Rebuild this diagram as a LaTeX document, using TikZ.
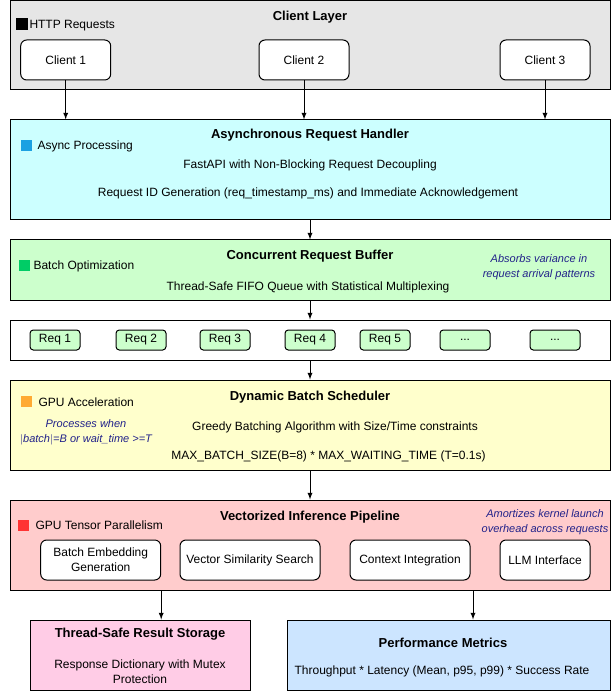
\documentclass[tikz,border=0pt]{standalone}
\usepackage{fontspec}
\setmainfont{Liberation Sans}

\definecolor{clientgray}{HTML}{E6E6E6}
\definecolor{asynccyan}{HTML}{CCFFFF}
\definecolor{buffergreen}{HTML}{CCFFCC}
\definecolor{schedyellow}{HTML}{FFFFCC}
\definecolor{pipered}{HTML}{FFCCCC}
\definecolor{storepink}{HTML}{FFCCE6}
\definecolor{metricsblue}{HTML}{CCE5FF}
\definecolor{keyblue}{HTML}{1BA1E2}
\definecolor{keygreen}{HTML}{00CC66}
\definecolor{keyorange}{HTML}{FFAA33}
\definecolor{keyred}{HTML}{FF3333}
\definecolor{notenavy}{HTML}{22228A}

\begin{document}
\begin{tikzpicture}[> = latex, x = 0.75pt, y = -0.75pt, line width = 0.75pt,
	layer/.style = {draw, inner sep = 0, minimum width = 600*\px},
	client/.style = {draw, fill = white, rounded corners = 4.5pt, inner sep = 0, minimum width = 90*\px, minimum height = 40*\px, font = \normal},
	stage/.style = {draw, fill = white, rounded corners = 4.5pt, inner sep = 0, minimum height = 40*\px, align = center, font = \normal},
	req/.style = {draw, fill = buffergreen, rounded corners = 2.5pt, inner sep = 0, minimum width = 50*\px, minimum height = 20*\px, font = \normal},
	result/.style = {draw, inner sep = 0, minimum height = 70*\px},
	title/.style = {yshift = -1.2pt, font = \bfseries\fontsize{9.75}{11.7}\selectfont},
	body/.style = {yshift = -1.2pt, font = \normal, align = center},
	key/.style = {inner sep = 0, minimum size = 11*\px},
	keytext/.style = {yshift = -1pt, anchor = west, inner sep = 0, font = \normal},
	note/.style = {yshift = -1.2pt, font = \itshape\fontsize{8.25}{11.25}\selectfont, text = notenavy, align = center}]

	% Definitions
	
	\def\px{0.75pt}		% One pixel of the reference
	\def\normal{\fontsize{9}{11.25}\selectfont}
	
	\useasboundingbox (0, 0) rectangle (611, 691);
	
	% Client layer
	
	\node [layer, fill = clientgray, minimum height = 89*\px] (clients) at (310, 45.5) {};
	\node [title] at (310, 16) {Client Layer};
	\node [key, fill = black, draw] (httpkey) at (21.5, 24.5) {};
	\node [keytext] at (29, 24.5) {HTTP Requests};
	
	\node [client] (client1) at (65.7, 60) {Client 1};
	\node [client] (client2) at (304, 60) {Client 2};
	\node [client] (client3) at (545, 60) {Client 3};
	
	% Asynchronous request handler
	
	\node [layer, fill = asynccyan, minimum height = 100*\px] (handler) at (310, 170) {};
	\node [title] at (310, 134) {Asynchronous Request Handler};
	\node [key, fill = keyblue] (asynckey) at (26, 145.5) {};
	\node [keytext] at (37, 145) {Async Processing};
	\node [body] at (310, 164) {FastAPI with Non-Blocking Request Decoupling};
	\node [body] at (308, 192) {Request ID Generation (req\_timestamp\_ms) and Immediate Acknowledgement};
	
	% Concurrent request buffer
	
	\node [layer, fill = buffergreen, minimum height = 60*\px] (buffer) at (310, 270) {};
	\node [title] at (310, 255) {Concurrent Request Buffer};
	\node [key, fill = keygreen] (batchkey) at (24, 265.5) {};
	\node [keytext] at (33, 265) {Batch Optimization};
	\node [body] at (308, 286) {Thread-Safe FIFO Queue with Statistical Multiplexing};
	\node [note] at (539, 265.5) {Absorbs variance in\\request arrival patterns};
	
	% Request queue
	
	\node [layer, fill = white, minimum height = 40*\px] (queue) at (310, 340) {};
	\node [req] (req1) at (55, 340) {Req 1};
	\node [req] (req2) at (141, 340) {Req 2};
	\node [req] (req3) at (225, 340) {Req 3};
	\node [req] (req4) at (310, 340) {Req 4};
	\node [req] (req5) at (385, 340) {Req 5};
	\node [req] (req6) at (465, 340) {...};
	\node [req] (req7) at (555, 340) {...};
	
	% Dynamic batch scheduler
	
	\node [layer, fill = schedyellow, minimum height = 90*\px] (scheduler) at (310, 425) {};
	\node [title] at (310, 396) {Dynamic Batch Scheduler};
	\node [key, fill = keyorange] (gpukey) at (26, 401.5) {};
	\node [keytext] at (38, 401) {GPU Acceleration};
	\node [note] at (86, 430.5) {Processes when\\$|$batch$|$=B or wait\_time >=T};
	\node [body] at (335, 426) {Greedy Batching Algorithm with Size/Time constraints};
	\node [body] at (328.5, 455) {MAX\_BATCH\_SIZE(B=8) * MAX\_WAITING\_TIME (T=0.1s)};
	
	% Vectorized inference pipeline
	
	\node [layer, fill = pipered, minimum height = 90*\px] (pipeline) at (310, 545) {};
	\node [title] at (310, 516) {Vectorized Inference Pipeline};
	\node [key, fill = keyred] (tensorkey) at (23, 525) {};
	\node [keytext] at (35, 524) {GPU Tensor Parallelism};
	\node [note] at (545, 520.5) {Amortizes kernel launch\\overhead across requests};
	
	\node [stage, minimum width = 120*\px] (embed) at (100.7, 560) {Batch Embedding\\Generation};
	\node [stage, minimum width = 140*\px] (search) at (250, 560) {Vector Similarity Search};
	\node [stage, minimum width = 120*\px] (context) at (410, 560) {Context Integration};
	\node [stage, minimum width = 90*\px] (llm) at (545, 560) {LLM Interface};
	
	% Outputs
	
	\node [result, fill = storepink, minimum width = 220*\px] (storage) at (140, 655) {};
	\node [title] at (140, 633) {Thread-Safe Result Storage};
	\node [body] at (140, 670.5) {Response Dictionary with Mutex\\Protection};
	
	\node [result, fill = metricsblue, minimum width = 323*\px] (metrics) at (448.5, 655) {};
	\node [title] at (443, 641) {Performance Metrics};
	\node [body] at (442, 670) {Throughput * Latency (Mean, p95, p99) * Success Rate};
	
	% Connectors
	
	\draw [->] (client1) -- (client1 |- handler.north);
	\draw [->] (client2) -- (client2 |- handler.north);
	\draw [->] (client3) -- (client3 |- handler.north);
	\draw [->] (handler) -- (buffer);
	\draw [->] (buffer) -- (queue);
	\draw [->] (queue) -- (scheduler);
	\draw [->] (scheduler) -- (pipeline);
	
	\coordinate (metricstap) at (473, 0);
	\draw [->] (pipeline.south -| embed.east) -- (storage.north -| embed.east);
	\draw [->] (pipeline.south -| metricstap) -- (metrics.north -| metricstap);
	
\end{tikzpicture}
\end{document}
